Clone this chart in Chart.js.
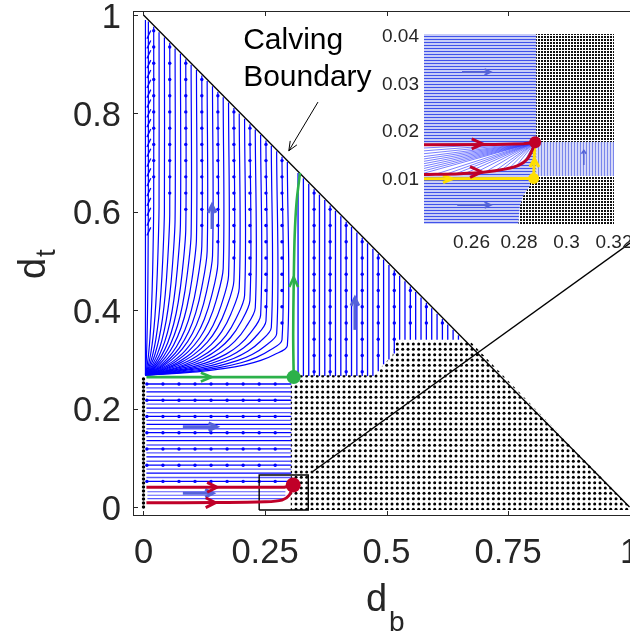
<!DOCTYPE html>
<html>
<head>
<meta charset="utf-8">
<title>Calving phase portrait</title>
<style>
  html, body { margin: 0; padding: 0; background: #fff; overflow: hidden; }
  #wrap { position: relative; width: 630px; height: 637px; overflow: hidden; }
  #main { position: absolute; left: 0; top: 0; }
  #inset { position: absolute; left: 370px; top: 24px; }
</style>
<script src="https://cdn.jsdelivr.net/npm/chart.js@4"></script>
</head>
<body>
<div id="wrap">
  <canvas id="main" width="650" height="637"></canvas>
  <canvas id="inset" width="260" height="236"></canvas>
</div>
<script>
const FONT = '"Liberation Sans", Arial, Helvetica, sans-serif';
const INK = '#262626';
const BLUE = '#0000ff';
const PALE_BLUE = '#5a5aff';
const ARROW_BLUE = '#5563d8';
const GREEN = '#2cb14a';
const RED = '#c00028';
const YELLOW = '#ffdf00';

// ---------- main panel ----------
const xTicks = [0, 0.25, 0.5, 0.75, 1];
const yTicks = [0, 0.2, 0.4, 0.6, 0.8, 1];

// calving boundary d_b + d_t = 1
const calvingX = [0, 1];
const calvingY = [1, 0];

// calved (dotted) region
const calvedX = [0.303, 1.007, 0.671, 0.517, 0.512, 0.5, 0.486, 0.476, 0.303, 0.303];
const calvedY = [-0.006, -0.006, 0.338, 0.338, 0.305, 0.296, 0.28, 0.268, 0.268, -0.006];
const leftDotsX = [0, 0];
const leftDotsY = [0, 0.262];

// horizontal streamlines, lower-left block
const lowRowY = [0.25, 0.242, 0.234, 0.225, 0.217, 0.209, 0.201, 0.192, 0.184, 0.176, 0.168, 0.159, 0.151, 0.143, 0.135, 0.126, 0.118, 0.110, 0.102, 0.093, 0.085, 0.077, 0.069, 0.060, 0.052];
const lowRowX = [0.006, 0.304];
const loopRowY = [0.031, 0.024, 0.017];
const loopRowX = [0.008, 0.292];

// vertical streamlines right of the green separatrix
const rightColX = [0.318, 0.329, 0.340, 0.351, 0.362, 0.373, 0.384, 0.395, 0.406, 0.417, 0.428, 0.439, 0.450, 0.461, 0.472, 0.483, 0.494, 0.505, 0.516, 0.527, 0.538, 0.549, 0.560, 0.571, 0.582, 0.593, 0.604, 0.615, 0.626, 0.637, 0.648];
const rightColBase = [0.266, 0.266, 0.266, 0.266, 0.266, 0.266, 0.266, 0.266, 0.266, 0.266, 0.266, 0.266, 0.266, 0.266, 0.266, 0.276, 0.29, 0.3, 0.312, 0.34, 0.34, 0.34, 0.34, 0.34, 0.34, 0.34, 0.34, 0.34, 0.34, 0.34, 0.34];

// curved streamlines fanning out of the corner near (0, 0.27):
// column where each one turns vertical, and the height of that turn
const fanX = [0.010, 0.021, 0.032, 0.043, 0.054, 0.065, 0.076, 0.087, 0.098, 0.109, 0.120, 0.131, 0.142, 0.153, 0.164, 0.175, 0.186, 0.197, 0.208, 0.219, 0.230, 0.241, 0.252, 0.263, 0.274, 0.285, 0.296];
const fanKnee = [0.62, 0.615, 0.61, 0.60, 0.595, 0.585, 0.575, 0.565, 0.555, 0.545, 0.53, 0.52, 0.51, 0.495, 0.485, 0.47, 0.46, 0.445, 0.43, 0.42, 0.405, 0.39, 0.378, 0.365, 0.352, 0.34, 0.328];
const fanBase = 0.268;
// shared bend profile (fraction of the column reached vs fraction of the rise)
const fanU = [0, 0.118, 0.246, 0.393, 0.55, 0.7, 0.813, 0.91, 1];
const fanV = [0, 0.03, 0.07, 0.13, 0.22, 0.35, 0.5, 0.7, 1];

// small arrow markers on the streamlines
const markColX = [0.021, 0.054, 0.087, 0.120, 0.153, 0.186, 0.219, 0.252, 0.285, 0.351, 0.384, 0.417, 0.450, 0.483, 0.516, 0.549, 0.582, 0.615, 0.648];
const markRowY = [0.275, 0.308, 0.341, 0.374, 0.407, 0.44, 0.473, 0.506, 0.539, 0.572, 0.605, 0.638, 0.671, 0.704, 0.737, 0.77, 0.803, 0.836, 0.869, 0.902, 0.935, 0.968];
const lowMarkX = [0.007, 0.04, 0.073, 0.106, 0.139, 0.172, 0.205, 0.238, 0.271];
const lowMarkY = [0.25, 0.217, 0.184, 0.151, 0.118, 0.085, 0.052];
// slanted arrow heads along the far-left streamline
const edgeTickX = 0.011;
const edgeTickY = [0.56, 0.58, 0.6, 0.62, 0.64, 0.66, 0.68, 0.7, 0.72, 0.74, 0.76, 0.78, 0.8, 0.82, 0.84, 0.86, 0.88, 0.9, 0.92, 0.94, 0.96];

// green separatrix
const greenHX = [0.006, 0.309];
const greenHY = [0.264, 0.264];
const greenVX = [0.309, 0.308, 0.309, 0.311, 0.315, 0.322];
const greenVY = [0.264, 0.35, 0.45, 0.55, 0.62, 0.679];
const greenPoint = [0.309, 0.264];

// red trajectories into the saddle
const redUpX = [0.006, 0.29, 0.308];
const redUpY = [0.04, 0.04, 0.0447];
const redLoX = [0.006, 0.15, 0.25, 0.285, 0.3, 0.308];
const redLoY = [0.0088, 0.009, 0.0105, 0.014, 0.024, 0.0447];
const redPoint = [0.308, 0.0447];

// zoom box and its connector
const zoomBoxX = [0.238, 0.339, 0.339, 0.238, 0.238];
const zoomBoxY = [-0.006, -0.006, 0.065, 0.065, -0.006];
const connectorX = [0.347, 1.03];
const connectorY = [0.071, 0.557];

// annotation
const noteText = ['Calving', 'Boundary'];
const noteTextX = 0.205;
const noteTextY = [0.931, 0.856];
const noteFrom = [0.359, 0.823];
const noteTo = [0.299, 0.724];

// ---------- inset panel ----------
const inXTicks = [0.26, 0.28, 0.3, 0.32];
const inYTicks = [0.01, 0.02, 0.03, 0.04];
const inEdgeX = [0.2797, 0.2797, 0.2804, 0.2818, 0.2846, 0.2846, 0.2872, 0.2872];
const inEdgeY = [0, 0.0002, 0.0039, 0.006, 0.0081, 0.0101, 0.0101, 0.04];
const inBandX = [0.2872, 0.32];
const inBandY = [0.0101, 0.01726];
const inRedUpX = [0.24, 0.27, 0.282, 0.2868];
const inRedUpY = [0.01668, 0.01675, 0.0169, 0.0172];
const inRedLoX = [0.24, 0.255, 0.265, 0.2745, 0.28, 0.2835, 0.2855, 0.2868];
const inRedLoY = [0.0104, 0.0106, 0.0109, 0.0116, 0.0124, 0.0137, 0.0155, 0.0172];
const inRedPoint = [0.2868, 0.0172];
const inYellowHX = [0.24, 0.2862];
const inYellowHY = [0.0095, 0.0096];
const inYellowVX = [0.2862, 0.2866];
const inYellowVY = [0.0096, 0.0172];
const inYellowPoint = [0.2862, 0.0096];
const inFanStartX = [0.24, 0.24, 0.24, 0.24, 0.24, 0.24, 0.24, 0.24, 0.24, 0.24, 0.24, 0.245, 0.25, 0.254, 0.258, 0.262, 0.266, 0.27, 0.273, 0.276, 0.279, 0.282];
const inFanStartY = [0.0107, 0.0112, 0.0117, 0.0122, 0.0127, 0.0132, 0.0137, 0.0142, 0.0148, 0.0154, 0.016, 0.0105, 0.0106, 0.0107, 0.0108, 0.0109, 0.011, 0.0112, 0.0115, 0.0118, 0.0123, 0.0129];

// ---------- helpers ----------
const pts = (xs, ys) => xs.map((x, i) => ({ x, y: ys[i] }));
function line(into, xs, ys, color, width, extra) {
  into.push(Object.assign({ data: pts(xs, ys), borderColor: color, borderWidth: width, fill: false, pointRadius: 0, tension: 0 }, extra || {}));
}
function area(into, xs, ys, paint) {
  into.push({ data: pts(xs, ys), borderColor: 'rgba(0,0,0,0)', borderWidth: 0, backgroundColor: paint, fill: 'shape', pointRadius: 0, tension: 0 });
}
function dot(into, p, color, r) {
  into.push({ data: [{ x: p[0], y: p[1] }], showLine: false, pointRadius: r, pointBackgroundColor: color, pointBorderWidth: 0, borderColor: color });
}
function finish(into) {
  into.forEach((d, i) => { d.order = into.length - i; });
  return into;
}
function makePattern(canvasId, w, h, paint) {
  const tile = document.createElement('canvas');
  tile.width = w; tile.height = h;
  paint(tile.getContext('2d'));
  return document.getElementById(canvasId).getContext('2d').createPattern(tile, 'repeat');
}

const dotFill = makePattern('main', 16, 16, g => {
  g.fillStyle = '#000';
  for (let i = 0; i < 3; i++) for (let j = 0; j < 3; j++) {
    g.beginPath(); g.arc(2.67 + i * 5.33, 2.67 + j * 5.33, 1.5, 0, Math.PI * 2); g.fill();
  }
});
const fineDots = makePattern('inset', 3, 3, g => {
  g.fillStyle = '#fff'; g.fillRect(0, 0, 3, 3);
  g.fillStyle = '#111'; g.fillRect(0, 0, 2, 2);
});
const hStripes = makePattern('inset', 3, 3, g => {
  g.fillStyle = '#c8cdf7'; g.fillRect(0, 0, 3, 3);
  g.fillStyle = '#4052ea'; g.fillRect(0, 0, 3, 1);
});
const vStripes = makePattern('inset', 3, 3, g => {
  g.fillStyle = '#d6d9f8'; g.fillRect(0, 0, 3, 3);
  g.fillStyle = '#7a86ec'; g.fillRect(0, 0, 1, 3);
});

// ---------- main datasets ----------
const mainSets = [];
area(mainSets, calvedX, calvedY, dotFill);
line(mainSets, leftDotsX, leftDotsY, '#000', 3.4, { borderDash: [0, 4], borderCapStyle: 'round' });

lowRowY.forEach((y, i) => line(mainSets, lowRowX, [y, y], i % 2 ? PALE_BLUE : BLUE, 1.3));
loopRowY.forEach(y => line(mainSets, loopRowX, [y, y], PALE_BLUE, 1.1));

rightColX.forEach((x, i) => line(mainSets, [x, x], [rightColBase[i], 1 - x - 0.003], BLUE, 1.3));

line(mainSets, [0.004, 0.004], [0.27, 0.99], BLUE, 1.2);
fanX.forEach((c, i) => {
  const h = fanKnee[i] - fanBase;
  const xs = fanU.map(u => 0.004 + u * (c - 0.004));
  const ys = fanV.map(v => fanBase + v * h);
  xs.push(c); ys.push(1 - c - 0.003);
  line(mainSets, xs, ys, BLUE, 1.2, { tension: 0.3 });
});

const markPts = [];
markColX.forEach(x => {
  const fi = fanX.indexOf(x);
  const ri = rightColX.indexOf(x);
  const base = fi >= 0 ? fanKnee[fi] + 0.02 : rightColBase[ri];
  markRowY.forEach(y => { if (y > base + 0.008 && y < 1 - x - 0.01) markPts.push({ x, y }); });
});
lowMarkY.forEach(y => lowMarkX.forEach(x => markPts.push({ x, y })));
mainSets.push({ data: markPts, showLine: false, pointRadius: 1.7, pointBackgroundColor: BLUE, pointBorderWidth: 0 });
mainSets.push({ data: edgeTickY.map(y => ({ x: edgeTickX, y })), showLine: false, pointStyle: 'line', pointRadius: 4.5, rotation: -65, borderColor: BLUE, pointBorderColor: BLUE, pointBorderWidth: 1.3 });

// direction arrows
line(mainSets, [0.081, 0.151], [0.163, 0.163], ARROW_BLUE, 3);
line(mainSets, [0.134, 0.151, 0.134], [0.171, 0.163, 0.155], ARROW_BLUE, 3);
line(mainSets, [0.081, 0.143], [0.028, 0.028], ARROW_BLUE, 3);
line(mainSets, [0.127, 0.143, 0.127], [0.036, 0.028, 0.02], ARROW_BLUE, 3);
line(mainSets, [0.141, 0.141], [0.565, 0.614], ARROW_BLUE, 3);
line(mainSets, [0.133, 0.141, 0.149], [0.598, 0.614, 0.598], ARROW_BLUE, 3);
line(mainSets, [0.435, 0.435], [0.36, 0.425], ARROW_BLUE, 3);
line(mainSets, [0.427, 0.435, 0.443], [0.409, 0.425, 0.409], ARROW_BLUE, 3);

line(mainSets, calvingX, calvingY, '#000', 1.3);
line(mainSets, zoomBoxX, zoomBoxY, '#000', 1.4);
line(mainSets, connectorX, connectorY, '#000', 1.3);

line(mainSets, greenHX, greenHY, GREEN, 2.6);
line(mainSets, greenVX, greenVY, GREEN, 2.6, { tension: 0.3 });
line(mainSets, [0.118, 0.14, 0.118], [0.273, 0.264, 0.255], GREEN, 2.6);
line(mainSets, [0.3, 0.309, 0.318], [0.447, 0.467, 0.447], GREEN, 2.6);
dot(mainSets, greenPoint, GREEN, 7);

line(mainSets, redUpX, redUpY, RED, 3);
line(mainSets, redLoX, redLoY, RED, 3, { tension: 0.3 });
line(mainSets, [0.131, 0.151, 0.131], [0.05, 0.04, 0.03], RED, 3);
line(mainSets, [0.128, 0.148, 0.128], [0.0188, 0.0088, -0.0012], RED, 3);
dot(mainSets, redPoint, RED, 7.5);

// ---------- inset datasets ----------
const inSets = [];
const edgeRevX = inEdgeX.slice().reverse();
const edgeRevY = inEdgeY.slice().reverse();
area(inSets, [0.32, 0.32].concat(edgeRevX, [0.32]), [0, 0.04].concat(edgeRevY, [0]), fineDots);
area(inSets, [0.24].concat(inEdgeX, [0.24, 0.24]), [0].concat(inEdgeY, [0.04, 0]), hStripes);
area(inSets, [inBandX[0], inBandX[1], inBandX[1], inBandX[0], inBandX[0]], [inBandY[0], inBandY[0], inBandY[1], inBandY[1], inBandY[0]], vStripes);
area(inSets, inRedUpX.concat(inRedLoX.slice().reverse()), inRedUpY.concat(inRedLoY.slice().reverse()), '#ffffff');
inFanStartX.forEach((x, i) => line(inSets, [x, inRedPoint[0]], [inFanStartY[i], inRedPoint[1]], 'rgba(30,40,255,0.75)', 0.8));

line(inSets, [0.256, 0.268], [0.032, 0.032], ARROW_BLUE, 2);
line(inSets, [0.2655, 0.268, 0.2655], [0.0326, 0.032, 0.0314], ARROW_BLUE, 2);
line(inSets, [0.254, 0.268], [0.004, 0.004], ARROW_BLUE, 2);
line(inSets, [0.2655, 0.268, 0.2655], [0.0046, 0.004, 0.0034], ARROW_BLUE, 2);
line(inSets, [0.3073, 0.3073], [0.0124, 0.0155], ARROW_BLUE, 1.5);
line(inSets, [0.3063, 0.3073, 0.3083], [0.0148, 0.0155, 0.0148], ARROW_BLUE, 1.5);

line(inSets, inYellowHX, inYellowHY, YELLOW, 3);
line(inSets, inYellowVX, inYellowVY, YELLOW, 3);
line(inSets, [0.248, 0.2518, 0.248], [0.0103, 0.0095, 0.0087], YELLOW, 3);
line(inSets, [0.2846, 0.2865, 0.2884], [0.012, 0.0137, 0.012], YELLOW, 3);

line(inSets, inRedUpX, inRedUpY, RED, 3);
line(inSets, inRedLoX, inRedLoY, RED, 3, { tension: 0.3 });
line(inSets, [0.2601, 0.2647, 0.2601], [0.0179, 0.01685, 0.0158], RED, 3);
line(inSets, [0.2594, 0.2643, 0.2594], [0.0121, 0.01095, 0.0098], RED, 3);
dot(inSets, inYellowPoint, YELLOW, 5.5);
dot(inSets, inRedPoint, RED, 6);

// ---------- plugins ----------
const frame = {
  id: 'frame',
  afterDatasetsDraw(chart) {
    const { ctx, chartArea: a, scales: { x, y } } = chart;
    ctx.save();
    ctx.strokeStyle = INK;
    ctx.lineWidth = 1;
    ctx.strokeRect(a.left + 0.5, a.top + 0.5, a.right - a.left - 1, a.bottom - a.top - 1);
    ctx.beginPath();
    xTicks.forEach(v => {
      const px = Math.round(x.getPixelForValue(v)) + 0.5;
      ctx.moveTo(px, a.bottom); ctx.lineTo(px, a.bottom - 5);
      ctx.moveTo(px, a.top); ctx.lineTo(px, a.top + 5);
    });
    yTicks.forEach(v => {
      const py = Math.round(y.getPixelForValue(v)) + 0.5;
      ctx.moveTo(a.left, py); ctx.lineTo(a.left + 5, py);
    });
    ctx.stroke();

    // calving boundary annotation
    const fx = x.getPixelForValue(noteFrom[0]), fy = y.getPixelForValue(noteFrom[1]);
    const tx = x.getPixelForValue(noteTo[0]), ty = y.getPixelForValue(noteTo[1]);
    ctx.strokeStyle = '#000';
    ctx.lineWidth = 1;
    ctx.beginPath(); ctx.moveTo(fx, fy); ctx.lineTo(tx, ty); ctx.stroke();
    const ang = Math.atan2(ty - fy, tx - fx);
    ctx.beginPath();
    ctx.moveTo(tx - 10 * Math.cos(ang - 0.4), ty - 10 * Math.sin(ang - 0.4));
    ctx.lineTo(tx, ty);
    ctx.lineTo(tx - 10 * Math.cos(ang + 0.4), ty - 10 * Math.sin(ang + 0.4));
    ctx.stroke();
    ctx.fillStyle = '#000';
    ctx.font = '30px ' + FONT;
    ctx.textAlign = 'left';
    ctx.textBaseline = 'alphabetic';
    noteText.forEach((t, i) => ctx.fillText(t, x.getPixelForValue(noteTextX), y.getPixelForValue(noteTextY[i])));

    // axis titles with subscripts
    ctx.fillStyle = INK;
    ctx.font = '38px ' + FONT;
    ctx.fillText('d', 366, 611);
    ctx.font = '28px ' + FONT;
    ctx.fillText('b', 389, 631);
    ctx.save();
    ctx.translate(45, 279); ctx.rotate(-Math.PI / 2);
    ctx.font = '38px ' + FONT;
    ctx.fillText('d', 0, 0);
    ctx.restore();
    ctx.save();
    ctx.translate(55, 257); ctx.rotate(-Math.PI / 2);
    ctx.font = '28px ' + FONT;
    ctx.fillText('t', 0, 0);
    ctx.restore();
    ctx.restore();
  }
};

function axis(min, max, ticks, size, pad, shift, fit) {
  return {
    type: 'linear', min, max,
    grid: { display: false, drawTicks: false, tickLength: 0 }, border: { display: false },
    ticks: { font: { family: FONT, size }, color: INK, padding: pad, labelOffset: shift, maxRotation: 0, autoSkip: false, callback: v => String(v) },
    afterBuildTicks: s => { s.ticks = ticks.map(v => ({ value: v })); },
    afterFit: fit
  };
}

new Chart(document.getElementById('main'), {
  type: 'line',
  data: { datasets: finish(mainSets) },
  options: {
    responsive: false, animation: false, events: [],
    layout: { padding: { top: 11, right: 11, left: 0, bottom: 0 } },
    elements: { point: { radius: 0 } },
    plugins: { legend: { display: false }, tooltip: { enabled: false } },
    scales: {
      x: axis(-0.0216, 1.0195, xTicks, 34.5, 17, 0, s => { s.height = 121; s.paddingLeft = 0; s.paddingRight = 0; }),
      y: axis(-0.0183, 1.0081, yTicks, 34.5, 12, 3, s => { s.width = 133; s.paddingTop = 0; s.paddingBottom = 0; })
    }
  },
  plugins: [frame]
});

new Chart(document.getElementById('inset'), {
  type: 'line',
  data: { datasets: finish(inSets) },
  options: {
    responsive: false, animation: false, events: [],
    layout: { padding: { top: 10, right: 16, left: 0, bottom: 0 } },
    elements: { point: { radius: 0 } },
    plugins: { legend: { display: false }, tooltip: { enabled: false } },
    scales: {
      x: axis(0.24, 0.32, inXTicks, 19, 7, 0, s => { s.height = 36; s.paddingLeft = 0; s.paddingRight = 0; }),
      y: axis(0, 0.04, inYTicks, 19, 5, 3, s => { s.width = 54; s.paddingTop = 0; s.paddingBottom = 0; })
    }
  }
});
</script>
</body>
</html>
